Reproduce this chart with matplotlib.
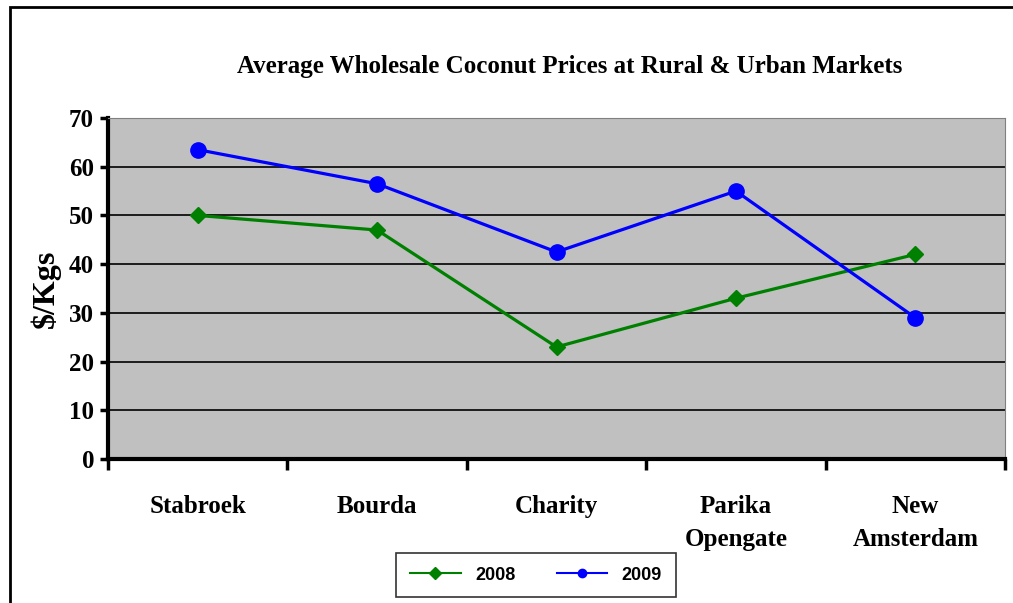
import matplotlib.pyplot as plt
import matplotlib.patches as patches
import numpy as np

markets = ["Stabroek", "Bourda", "Charity", "Parika\nOpengate", "New\nAmsterdam"]
prices_2008 = [50, 47, 23, 33, 42]
prices_2009 = [63.5, 56.5, 42.5, 55, 29]
y_ticks = [0, 10, 20, 30, 40, 50, 60, 70]

serif = "Liberation Serif"

fig = plt.figure(figsize=(10.13, 6.03), dpi=100)
# outer chart frame
fig.patches.append(patches.Rectangle((10 / 1013, -0.05), 1.2, 1 - 7 / 603 + 0.05,
                                     transform=fig.transFigure, fill=False,
                                     edgecolor="black", linewidth=2))

ax = fig.add_axes([108 / 1013, 1 - 459 / 603, 897 / 1013, 341 / 603])
ax.set_facecolor("#C0C0C0")

x = np.arange(len(markets))
ax.plot(x, prices_2008, color="#008000", linewidth=2.3, marker="D", markersize=8, label="2008", zorder=3)
ax.plot(x, prices_2009, color="#0000FF", linewidth=2.3, marker="o", markersize=11, label="2009", zorder=3)

ax.set_xlim(-0.5, len(markets) - 0.5)
ax.set_ylim(0, 70)
ax.set_yticks(y_ticks)
ax.set_yticklabels([str(v) for v in y_ticks], fontfamily=serif, fontweight="bold", fontsize=18)
ax.yaxis.grid(True, color="black", linewidth=1.2)
ax.set_axisbelow(True)

ax.set_xticks(np.arange(len(markets) + 1) - 0.5)
ax.set_xticklabels([])
ax.set_xticks(x, minor=True)
ax.set_xticklabels(markets, minor=True, fontfamily=serif, fontweight="bold", fontsize=18, linespacing=1.55)
ax.tick_params(axis="x", which="major", direction="out", length=8, width=2.5)
ax.tick_params(axis="x", which="minor", length=0, pad=26)
ax.tick_params(axis="y", direction="out", length=6, width=2.5, pad=4)

ax.spines["left"].set_linewidth(3)
ax.spines["bottom"].set_linewidth(3)
ax.spines["top"].set_color("#808080")
ax.spines["right"].set_color("#808080")

ax.set_ylabel("$/Kgs", fontfamily=serif, fontweight="bold", fontsize=23, labelpad=6)

fig.text(570 / 1013, 1 - 67 / 603, "Average Wholesale Coconut Prices at Rural & Urban Markets",
         ha="center", va="center", fontfamily=serif, fontweight="bold", fontsize=18)

leg = fig.legend(loc="center", bbox_to_anchor=(536 / 1013, 1 - 575 / 603), ncol=2,
                 frameon=True, fancybox=False, edgecolor="black", handlelength=2.8,
                 columnspacing=2.3, borderpad=0.75,
                 prop={"family": "Liberation Sans", "weight": "bold", "size": 13})
leg.get_frame().set_linewidth(1.2)
for h in leg.legend_handles:
    h.set_markersize(6)
    h.set_linewidth(1.5)

fig.savefig("out.png", dpi=100)
